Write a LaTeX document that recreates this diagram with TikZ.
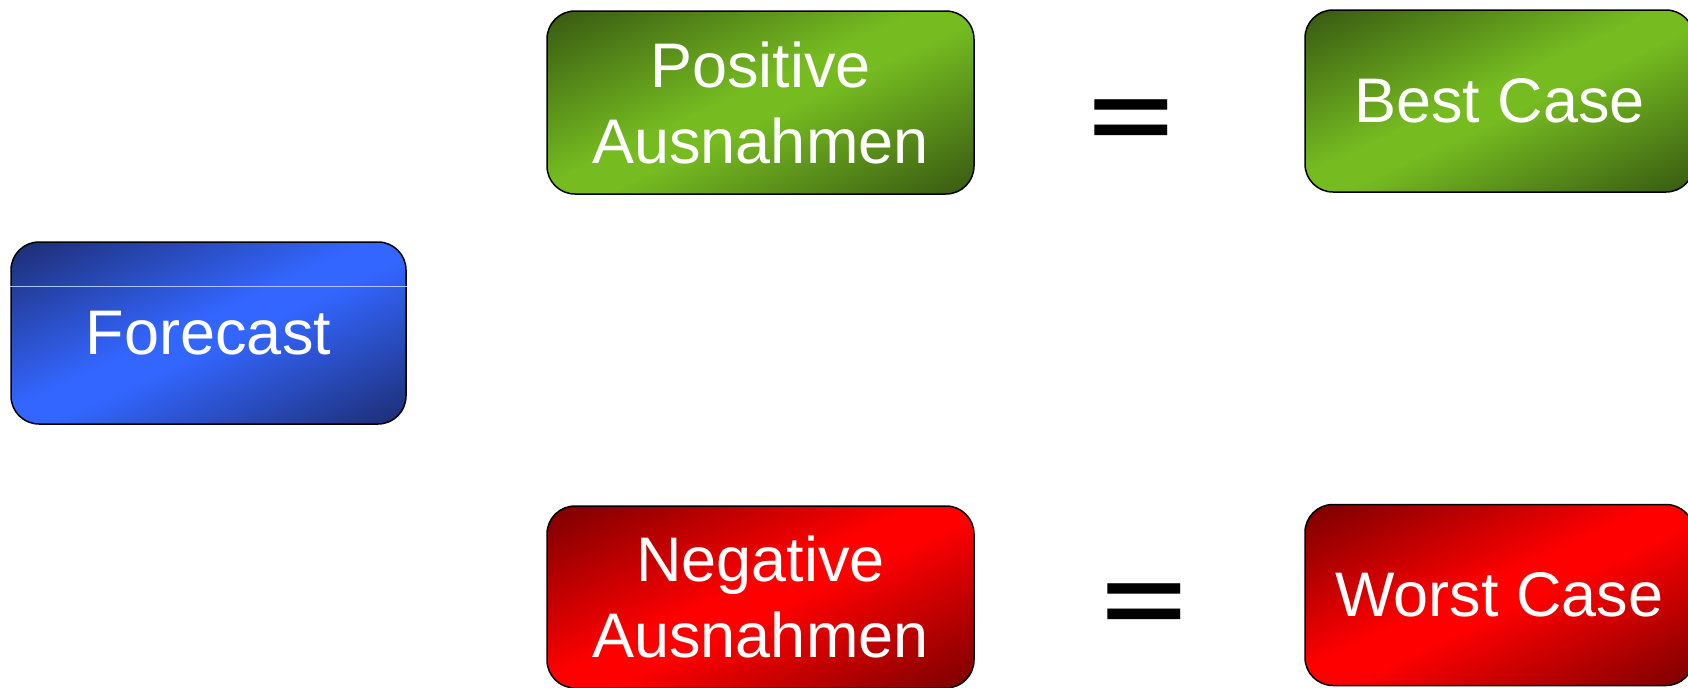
\documentclass[tikz,border=0pt]{standalone}
\usepackage{fontspec}
\setmainfont{Liberation Sans}
\newfontfamily\eqfont{DejaVu Sans}

\definecolor{blueLight}{HTML}{3366FF}
\definecolor{blueDark}{HTML}{1E2F78}
\definecolor{greenLight}{HTML}{76BC21}
\definecolor{greenDark}{HTML}{3A5C12}
\definecolor{redLight}{HTML}{FF0000}
\definecolor{redDark}{HTML}{7F0000}

\pgfdeclareverticalshading{blueShade}{100bp}{color(0bp)=(blueDark); color(18bp)=(blueDark);
  color(47bp)=(blueLight); color(53bp)=(blueLight); color(82bp)=(blueDark); color(100bp)=(blueDark)}
\pgfdeclareverticalshading{greenShade}{100bp}{color(0bp)=(greenDark); color(18bp)=(greenDark);
  color(47bp)=(greenLight); color(53bp)=(greenLight); color(82bp)=(greenDark); color(100bp)=(greenDark)}
\pgfdeclareverticalshading{redShade}{100bp}{color(0bp)=(redDark); color(18bp)=(redDark);
  color(47bp)=(redLight); color(53bp)=(redLight); color(82bp)=(redDark); color(100bp)=(redDark)}

\begin{document}
\begin{tikzpicture}
[x=0.5pt, y=-0.5pt,
 every node/.style={align=center},
 nodeCase/.style={draw=black, line width=0.75pt, rounded corners=14pt,
   inner sep=0pt, text=white, font=\fontsize{31.5}{38}\selectfont,
   shade, shading angle=25},
 nodeEq/.style={text=black, inner sep=0pt, font=\eqfont\fontsize{60}{60}\selectfont}
]
\useasboundingbox (0,0) rectangle (1688,687);
\node[nodeCase, shading=blueShade,
  minimum width=197.5pt, minimum height=91pt]  (Fc)  at ( 208.5, 333)   {Forecast};
\node[nodeCase, shading=greenShade,
  minimum width=213.5pt, minimum height=91.5pt] (Pos) at ( 760.5, 102.5) {Positive\\ Ausnahmen};
\node[nodeCase, shading=redShade,
  minimum width=213.5pt, minimum height=91pt]  (Neg) at ( 760.5, 597)   {Negative\\ Ausnahmen};
\node[nodeCase, shading=greenShade,
  minimum width=194.5pt, minimum height=91pt]  (Best)  at (1499.5, 101)   {Best Case};
\node[nodeCase, shading=redShade,
  minimum width=194.5pt, minimum height=90.5pt] (Worst) at (1499.5, 595) {Worst Case};
\node[nodeEq] (EqT) at (1131, 129) {\scalebox{0.97}[1.06]{=}};
\node[nodeEq] (EqB) at (1144.5, 613) {\scalebox{0.97}[1.06]{=}};
\draw[blueLight!40!white, line width=0.4pt]
  ([yshift=-22.5pt]Fc.north west) -- ([yshift=-22.5pt]Fc.north east);
\end{tikzpicture}
\end{document}
